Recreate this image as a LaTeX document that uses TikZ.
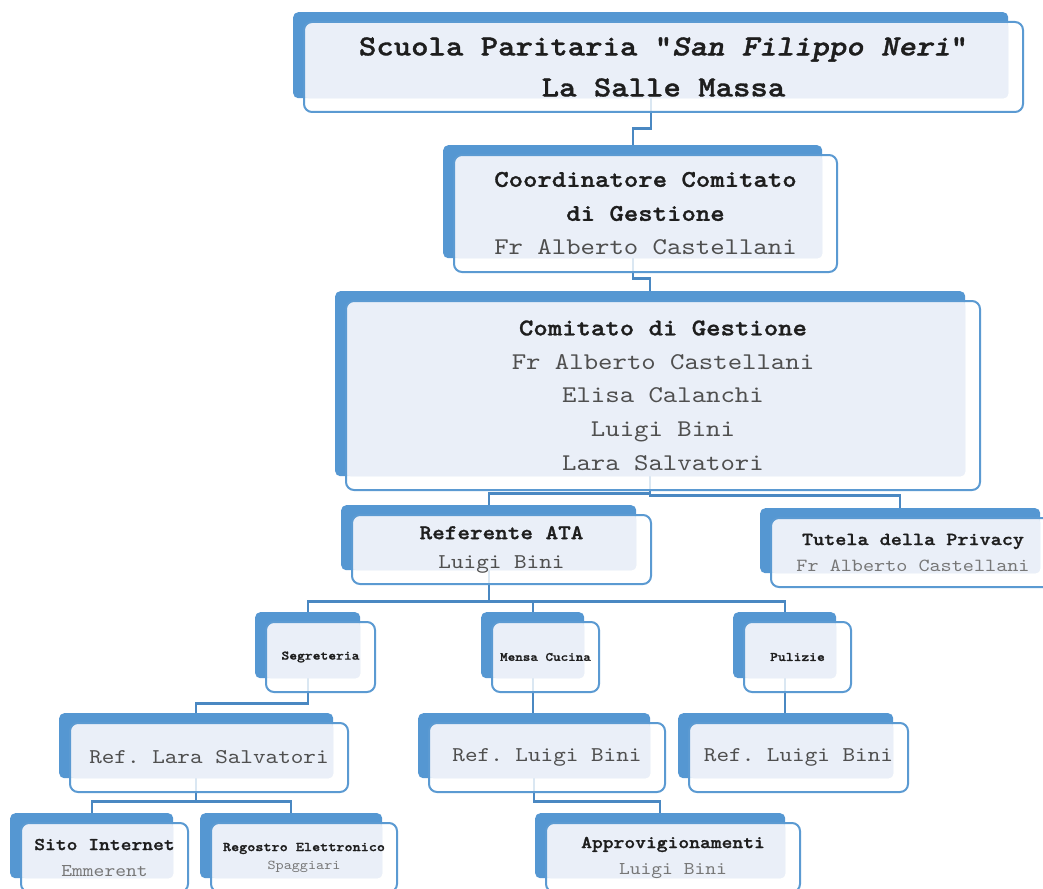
\documentclass[tikz,border=0pt]{standalone}
\usepackage{fontspec}
\newfontfamily\orgfont[Extension=.otf, FakeStretch=1.143,
  UprightFont=lmmono10-regular, ItalicFont=lmmono10-italic,
  BoldFont=lmmonolt10-bold, BoldItalicFont=lmmonolt10-boldoblique,
  BoldFeatures={FakeBold=1.2}, BoldItalicFeatures={FakeBold=1.2}]{lmmono10-regular}
\usetikzlibrary{calc}
\frenchspacing

\definecolor{boxblue}{HTML}{5597D2}
\definecolor{boxline}{HTML}{5B9AD2}
\definecolor{boxlight}{HTML}{EAEFF8}
\definecolor{lineblue}{HTML}{4A88C2}
\definecolor{titlegray}{HTML}{1E1E1E}
\definecolor{namegray}{HTML}{4F4F4F}
\definecolor{softgray}{HTML}{777777}

\tikzset{
  backbox/.style={anchor=north west, fill=boxblue, rounded corners=5pt, inner sep=0pt},
  frontbox/.style={anchor=north west, draw=boxline, line width=2pt, fill=white, fill opacity=0.8,
    text opacity=1, rounded corners=8pt, inner sep=0pt, align=center, text=titlegray,
    path picture={\fill[boxlight, fill opacity=1, rounded corners=5pt]
      (path picture bounding box.north west) rectangle (#1.south east);}},
  orgline/.style={draw=lineblue, line width=2.2pt}
}

\begin{document}
\begin{tikzpicture}[x=1pt, y=-1pt]

\useasboundingbox (0,0) rectangle (1043,888);
\fill[white] (0,0) rectangle (1043,888);

% blue backs
\node[backbox, minimum width=715pt, minimum height=86pt] (scuola) at (293,12) {};
\node[backbox, minimum width=379pt, minimum height=113pt] (coord) at (443,145) {};
\node[backbox, minimum width=630pt, minimum height=185pt] (comitato) at (335,291) {};
\node[backbox, minimum width=295pt, minimum height=65pt] (ata) at (341,505) {};
\node[backbox, minimum width=280pt, minimum height=65pt] (privacy) at (760,508) {};
\node[backbox, minimum width=105pt, minimum height=66pt] (segreteria) at (255,612) {};
\node[backbox, minimum width=103pt, minimum height=66pt] (mensa) at (481,612) {};
\node[backbox, minimum width=103pt, minimum height=66pt] (pulizie) at (733,612) {};
\node[backbox, minimum width=274pt, minimum height=65pt] (reflara) at (59,713) {};
\node[backbox, minimum width=232pt, minimum height=65pt] (refmensa) at (418,713) {};
\node[backbox, minimum width=215pt, minimum height=65pt] (refpulizie) at (678,713) {};
\node[backbox, minimum width=163pt, minimum height=65pt] (sito) at (10,813) {};
\node[backbox, minimum width=182pt, minimum height=65pt] (registro) at (200,813) {};
\node[backbox, minimum width=250pt, minimum height=65pt] (appro) at (535,813) {};

% connectors
\draw[orgline] (scuola.south) -- ++(0,30) -| (coord.north);
\draw[orgline] (coord.south) -- ++(0,20) -| (comitato.north);
\draw[orgline] (comitato.south) -- ++(0,17) -| (ata.north);
\draw[orgline] (comitato.south) -- ++(0,19) -| (privacy.north);
\foreach \dest in {segreteria, mensa, pulizie}
  \draw[orgline] (ata.south) -- ++(0,31) -| (\dest.north);
\draw[orgline] (segreteria.south) -- ++(0,25) -| (reflara.north);
\draw[orgline] (mensa.south) -- (mensa.south |- refmensa.north);
\draw[orgline] (pulizie.south) -- (pulizie.south |- refpulizie.north);
\foreach \dest in {sito, registro}
  \draw[orgline] (reflara.south) -- ++(0,23) -| (\dest.north);
\draw[orgline] (refmensa.south) -- ++(0,23) -| (appro.north);

% front boxes with texts
\node[frontbox=scuola, minimum width=719pt, minimum height=90pt,
  font=\orgfont\fontsize{29pt}{41pt}\selectfont] (scuola-f) at ($(scuola.north west)+(10,9)$)
  {\textbf{Scuola Paritaria "\textit{San Filippo Neri}"}\\\textbf{La Salle Massa}};
\node[frontbox=coord, minimum width=383pt, minimum height=117pt,
  font=\orgfont\fontsize{24pt}{34pt}\selectfont] (coord-f) at ($(coord.north west)+(10,9)$)
  {\textbf{Coordinatore Comitato}\\\textbf{di Gestione}\\\textcolor{namegray}{Fr Alberto Castellani}};
\node[frontbox=comitato, minimum width=634pt, minimum height=189pt,
  font=\orgfont\fontsize{24pt}{33.75pt}\selectfont] (comitato-f) at ($(comitato.north west)+(10,9)$)
  {\textbf{Comitato di Gestione}\\\textcolor{namegray}{Fr Alberto Castellani}\\
   \textcolor{namegray}{Elisa Calanchi}\\\textcolor{namegray}{Luigi Bini}\\\textcolor{namegray}{Lara Salvatori}};
\node[frontbox=ata, minimum width=299pt, minimum height=69pt,
  font=\orgfont\fontsize{21pt}{29pt}\selectfont] (ata-f) at ($(ata.north west)+(10,9)$)
  {\textbf{Referente ATA}\\\textcolor{namegray}{Luigi Bini}};
\node[frontbox=privacy, minimum width=284pt, minimum height=69pt,
  font=\orgfont\fontsize{18.5pt}{26pt}\selectfont] (privacy-f) at ($(privacy.north west)+(10,9)$)
  {\textbf{Tutela della Privacy}\\\textcolor{softgray}{Fr Alberto Castellani}};
\node[frontbox=segreteria, minimum width=109pt, minimum height=70pt,
  font=\orgfont\fontsize{13pt}{16pt}\selectfont] (segreteria-f) at ($(segreteria.north west)+(10,9)$)
  {\textbf{Segreteria}};
\node[frontbox=mensa, minimum width=107pt, minimum height=70pt,
  font=\orgfont\fontsize{12.6pt}{16pt}\selectfont] (mensa-f) at ($(mensa.north west)+(10,9)$)
  {\textbf{Mensa Cucina}};
\node[frontbox=pulizie, minimum width=107pt, minimum height=70pt,
  font=\orgfont\fontsize{13pt}{16pt}\selectfont] (pulizie-f) at ($(pulizie.north west)+(10,9)$)
  {\textbf{Pulizie}};
\node[frontbox=reflara, minimum width=278pt, minimum height=69pt,
  font=\orgfont\fontsize{21pt}{26pt}\selectfont] (reflara-f) at ($(reflara.north west)+(10,9)$)
  {\textcolor{namegray}{Ref. Lara Salvatori}};
\node[frontbox=refmensa, minimum width=236pt, minimum height=69pt,
  font=\orgfont\fontsize{21pt}{26pt}\selectfont] (refmensa-f) at ($(refmensa.north west)+(10,9)$)
  {\textcolor{namegray}{Ref. Luigi Bini}};
\node[frontbox=refpulizie, minimum width=219pt, minimum height=69pt,
  font=\orgfont\fontsize{21pt}{26pt}\selectfont] (refpulizie-f) at ($(refpulizie.north west)+(10,9)$)
  {\textcolor{namegray}{Ref. Luigi Bini}};
\node[frontbox=sito, minimum width=167pt, minimum height=69pt,
  font=\orgfont\fontsize{18pt}{26pt}\selectfont] (sito-f) at ($(sito.north west)+(10,9)$)
  {\textbf{Sito Internet}\\\textcolor{softgray}{Emmerent}};
\node[frontbox=registro, minimum width=186pt, minimum height=69pt,
  font=\orgfont\fontsize{13.5pt}{18pt}\selectfont] (registro-f) at ($(registro.north west)+(10,9)$)
  {\textbf{Regostro Elettronico}\\\textcolor{softgray}{Spaggiari}};
\node[frontbox=appro, minimum width=254pt, minimum height=69pt,
  font=\orgfont\fontsize{18pt}{26pt}\selectfont] (appro-f) at ($(appro.north west)+(10,9)$)
  {\textbf{Approvigionamenti}\\\textcolor{softgray}{Luigi Bini}};

\end{tikzpicture}
\end{document}
